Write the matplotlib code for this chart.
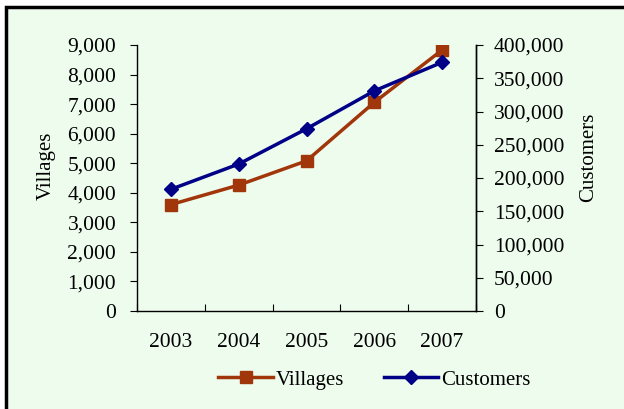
import matplotlib
matplotlib.use("Agg")
from matplotlib import pyplot as plt
from matplotlib.patches import Rectangle
from matplotlib.ticker import FuncFormatter, FixedLocator
import numpy as np

# data
years = ["2003", "2004", "2005", "2006", "2007"]
villages = [3600, 4260, 5080, 7060, 8830]
customers = [183000, 221000, 274000, 331000, 374000]

plt.rcParams['font.family'] = ['Liberation Serif', 'DejaVu Serif']
plt.rcParams['font.size'] = 15

fig = plt.figure(figsize=(6.24, 4.09), dpi=100, facecolor='white')
bg = Rectangle((6/624, -0.05), 1.2, 1 - 7/409 + 0.05, transform=fig.transFigure,
               facecolor='#EEFCEE', edgecolor='black', linewidth=2.5, zorder=-10)
fig.patches.append(bg)

ax = fig.add_axes([137/624, 1 - 311/409, (476 - 137)/624, (311 - 45)/409])
ax.patch.set_visible(False)
x = np.arange(len(years))
vil_color = '#A0360A'
cus_color = '#000087'
l1, = ax.plot(x, villages, color=vil_color, lw=2.5, marker='s', ms=8, label='Villages')
ax.set_ylim(0, 9000)
ax.set_xlim(-0.5, len(years) - 0.5)
ax.set_yticks(np.arange(0, 9001, 1000))
comma = FuncFormatter(lambda v, p: f"{int(v):,}")
ax.yaxis.set_major_formatter(comma)
ax.set_ylabel('Villages')
ax.yaxis.set_label_coords(-0.24, 0.545)

ax2 = ax.twinx()
l2, = ax2.plot(x, customers, color=cus_color, lw=2.5, marker='D', ms=7, label='Customers')
ax2.set_ylim(0, 400000)
ax2.set_yticks(np.arange(0, 400001, 50000))
ax2.yaxis.set_major_formatter(comma)
ax2.set_ylabel('Customers')
ax2.yaxis.set_label_coords(1.304, 0.579)

ax.xaxis.set_major_locator(FixedLocator(np.arange(-0.5, len(years), 1)))
ax.set_xticklabels([])
ax.xaxis.set_minor_locator(FixedLocator(x))
ax.set_xticklabels(years, minor=True)
ax.tick_params(axis='x', which='minor', length=0, pad=16, labelsize=15.5)
ax.tick_params(axis='x', which='major', direction='in', length=5)

for a in (ax, ax2):
    a.spines['top'].set_visible(False)
    for s in a.spines.values():
        s.set_linewidth(1.0)
ax.tick_params(axis='y', direction='out', length=5, pad=10, labelsize=15.5)
ax2.tick_params(axis='y', direction='out', length=5, pad=8, labelsize=15.5)
ax2.spines['left'].set_visible(False)
ax2.spines['bottom'].set_visible(False)

fig.legend(handles=[l1, l2], loc='center', bbox_to_anchor=(0.6, 1 - 380/409),
           ncol=2, frameon=False, fontsize=15, handlelength=2.6,
           columnspacing=1.9, handletextpad=0.15)

fig.savefig('out.png', dpi=100, facecolor=fig.get_facecolor())
